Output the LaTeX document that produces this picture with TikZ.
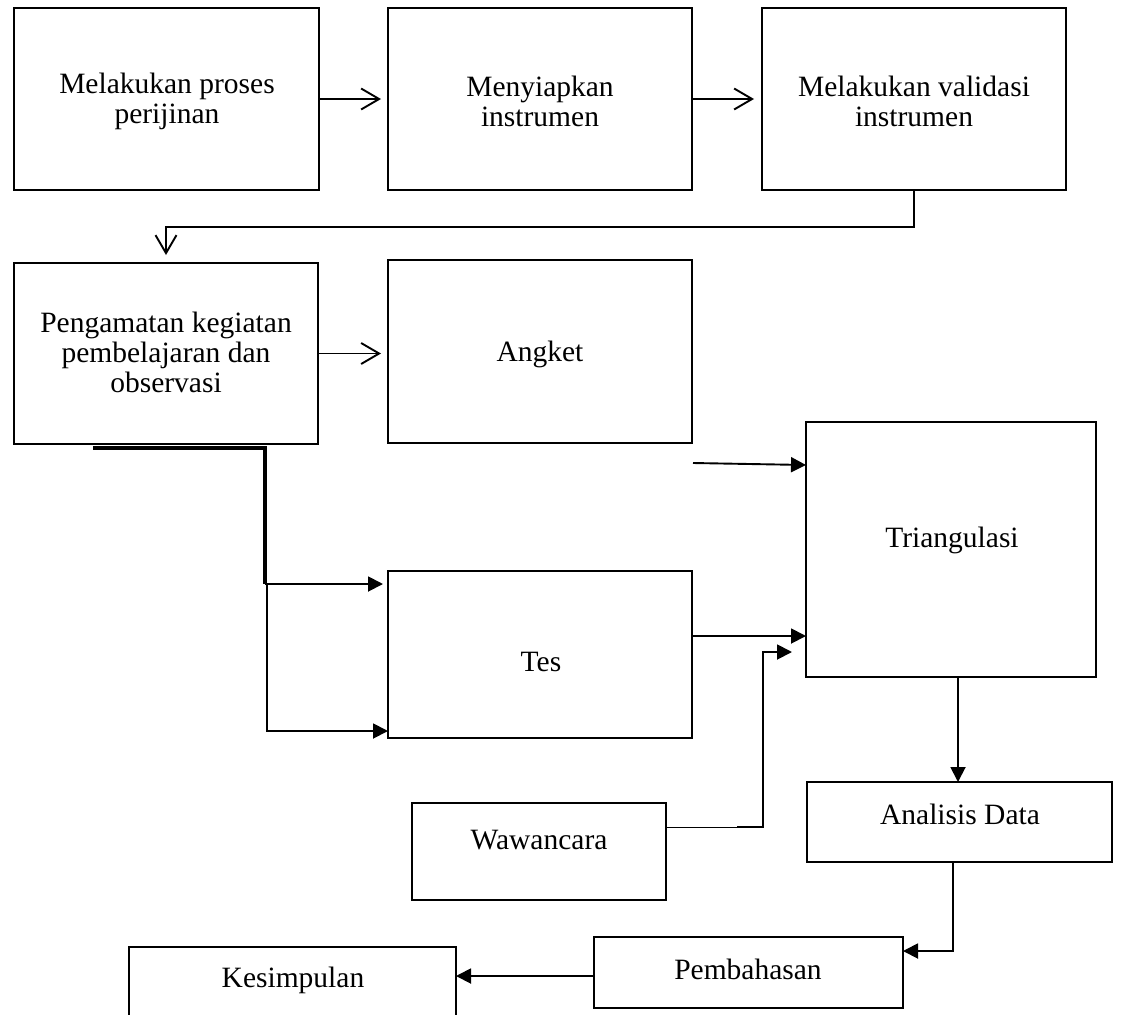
\documentclass[tikz,border=0pt]{standalone}
\usepackage{fontspec}
\setmainfont{Liberation Serif}
\usetikzlibrary{arrows.meta}
\tikzset{
  boxnode/.style={draw=black, line width=2.2pt, rectangle, inner sep=0pt, outer sep=0pt},
  lbl/.style={inner sep=0pt, align=center, font=\fontsize{29.5}{30}\selectfont},
  conn/.style={line width=1.9pt},
  oa/.style={conn, -{Straight Barb[length=18pt,width=21pt]}},
  fa/.style={conn, -{Triangle[length=15pt,width=15pt]}}
}
\begin{document}
\begin{tikzpicture}[x=1pt,y=-1pt]
\useasboundingbox (0,0) rectangle (1125,1015);
% boxes
\node[boxnode, minimum width=305pt, minimum height=182pt] (b1) at (166.5,99) {};
\node[boxnode, minimum width=304pt, minimum height=182pt] (b2) at (540,99) {};
\node[boxnode, minimum width=304pt, minimum height=182pt] (b3) at (914,99) {};
\node[boxnode, minimum width=304pt, minimum height=181pt] (b4) at (166,353.5) {};
\node[boxnode, minimum width=304pt, minimum height=183pt] (ang) at (540,351.5) {};
\node[boxnode, minimum width=290pt, minimum height=255pt] (tri) at (951,549.5) {};
\node[boxnode, minimum width=304pt, minimum height=167pt] (tes) at (540,654.5) {};
\node[boxnode, minimum width=254pt, minimum height=97pt] (waw) at (539,851.5) {};
\node[boxnode, minimum width=305pt, minimum height=80pt] (ana) at (959.5,822) {};
\node[boxnode, minimum width=309pt, minimum height=71pt] (pem) at (748.5,972.5) {};
\node[boxnode, minimum width=327pt, minimum height=90pt] (kes) at (292.5,992) {};
% labels
\node[lbl] (t1) at (167,101) {Melakukan proses\\perijinan};
\node[lbl] (t2) at (540,101) {Menyiapkan\\instrumen};
\node[lbl] (t3) at (914,101) {Melakukan validasi\\instrumen};
\node[lbl] (t4) at (166,352) {Pengamatan kegiatan\\pembelajaran dan\\observasi};
\node[lbl] (t5) at (540,354) {Angket};
\node[lbl] (t6) at (952,540) {Triangulasi};
\node[lbl] (t7) at (541,662) {Tes};
\node[lbl] (t8) at (539,840) {Wawancara};
\node[lbl] (t9) at (960,814) {Analisis Data};
\node[lbl] (t10) at (748,969) {Pembahasan};
\node[lbl] (t11) at (293,980) {Kesimpulan};
% top row arrows
\draw[oa] (b1.east) -- ([xshift=-7pt]b2.west);
\draw[oa] (b2.east) -- ([xshift=-8pt]b3.west);
% b3 to b4
\coordinate (c1) at (166,227);
\draw[oa] (b3.south) |- (c1) -- ([yshift=8pt]b4.north);
% b4 to angket
\draw[oa] (b4.east) -- ([xshift=-7pt]ang.west |- b4.east);
% b4 down to tes
\coordinate (j1) at (93,448);
\coordinate (j2) at (265,448);
\coordinate (j3) at (265,584);
\coordinate (j4) at (267,731);
\draw[line width=3.2pt] (j1) -- (j2) -- (j3);
\draw[fa] (j3) -- ([xshift=-5pt]tes.west |- j3);
\draw[fa] (j3 -| j4) -- (j4) -- (tes.west |- j4);
% angket side to triangulasi
\coordinate (a1) at (693,463);
\coordinate (a2) at (700,465);
\draw[fa] (a1) -- (tri.west |- a2);
% tes to triangulasi
\coordinate (s1) at (700,636);
\draw[fa] (tes.east |- s1) -- (tri.west |- s1);
% wawancara to triangulasi
\coordinate (w1) at (737,827);
\coordinate (w2) at (763,827);
\coordinate (w3) at (763,652);
\coordinate (w4) at (792,652);
\draw[line width=1pt] (waw.east |- w1) -- (w1);
\draw[fa] (w1) -- (w2) -- (w3) -- (w4);
% triangulasi to analisis
\coordinate (d1) at (958,677);
\draw[fa] (d1) -- (d1 |- ana.north);
% analisis to pembahasan
\coordinate (e1) at (953,862);
\coordinate (e2) at (953,951);
\draw[fa] (e1) -- (e2) -- (pem.east |- e2);
% pembahasan to kesimpulan
\coordinate (f1) at (594,976);
\draw[fa] (f1) -- (kes.east |- f1);
\end{tikzpicture}
\end{document}
